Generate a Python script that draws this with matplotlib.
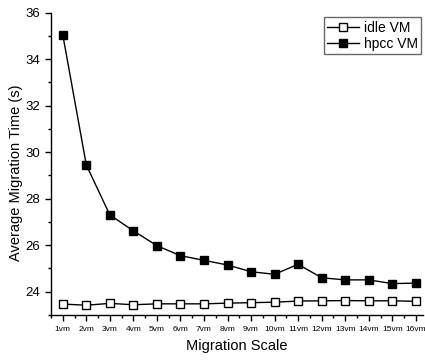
import numpy as np
import matplotlib.pyplot as plt
from matplotlib.ticker import MultipleLocator

plt.rcParams['font.family'] = ['Liberation Sans', 'DejaVu Sans']

scales = ['%dvm' % i for i in range(1, 17)]
idle_vm = [23.47, 23.42, 23.50, 23.44, 23.48, 23.48, 23.48, 23.51,
           23.53, 23.55, 23.60, 23.61, 23.62, 23.61, 23.61, 23.59]
hpcc_vm = [35.05, 29.45, 27.30, 26.62, 25.98, 25.55, 25.35, 25.15,
           24.86, 24.75, 25.18, 24.60, 24.51, 24.51, 24.35, 24.37]

fig = plt.figure(figsize=(4.25, 3.6), dpi=100)
ax = fig.add_axes([0.12, 0.125, 0.875, 0.84])

x = np.arange(1, len(scales) + 1)
ax.plot(x, idle_vm, color='black', lw=1, marker='s', ms=5.5,
        mfc='white', mec='black', mew=1, label='idle VM')
ax.plot(x, hpcc_vm, color='black', lw=1, marker='s', ms=5.5,
        mfc='black', mec='black', label='hpcc VM')

ax.set_xlim(0.5, 16.3)
ax.set_ylim(23, 36)
ax.set_xticks(x)
ax.set_xticklabels(scales, fontsize=6)
ax.xaxis.set_minor_locator(MultipleLocator(0.5))
ax.yaxis.set_major_locator(MultipleLocator(2))
ax.yaxis.set_minor_locator(MultipleLocator(1))
ax.tick_params(axis='y', labelsize=9.5)
ax.tick_params(which='major', direction='out', length=4.5, width=1)
ax.tick_params(which='minor', direction='out', length=2.5, width=1)

for s in ['top', 'right']:
    ax.spines[s].set_visible(False)
for s in ['left', 'bottom']:
    ax.spines[s].set_linewidth(1)

ax.set_xlabel('Migration Scale', fontsize=10.5)
ax.set_ylabel('Average Migration Time (s)', fontsize=10.5)
ax.yaxis.set_label_coords(-0.075, 0.47)

leg = ax.legend(loc='upper right', bbox_to_anchor=(0.995, 0.985), fontsize=10,
                fancybox=False, edgecolor='#444444', handlelength=2.3,
                borderpad=0.25, labelspacing=0.15, handletextpad=0.3,
                borderaxespad=0)
leg.get_frame().set_linewidth(1)

fig.savefig('out.png', dpi=100)
